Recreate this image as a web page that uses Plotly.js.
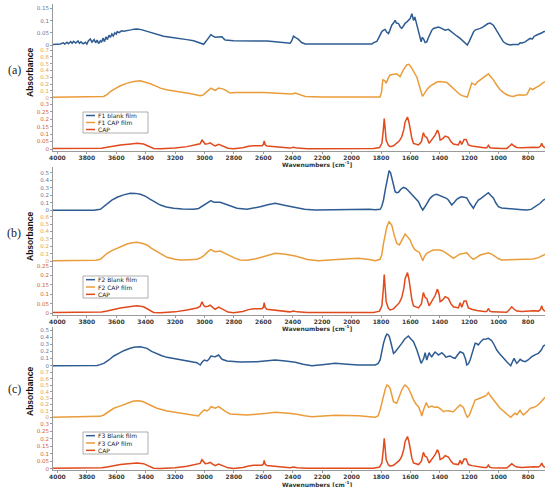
<!DOCTYPE html>
<html>
<head>
<meta charset="utf-8">
<script src="https://cdn.plot.ly/plotly-3.0.1.min.js"></script>
<style>html,body{margin:0;padding:0;background:#fff;}#chart{width:550px;height:487px;}</style>
</head>
<body>
<div id="chart"></div>
<script>
// ---------------- DATA ----------------
// Panel (a) F1 blank film
var wnA1 = [4030,4000,3980,3960,3950,3935,3925,3910,3900,3890,3875,3860,3850,3840,3825,3810,3800,3790,3776,3765,3750,3740,3730,3720,3708,3700,3690,3680,3670,3660,3650,3640,3630,3620,3610,3600,3594,3580,3565,3550,3527,3500,3480,3459,3430,3414,3380,3346,3300,3278,3220,3164,3120,3074,3040,3006,2990,2970,2956,2945,2927,2905,2881,2870,2859,2802,2700,2575,2519,2450,2417,2405,2395,2380,2361,2340,2315,2100,1950,1880,1862,1850,1840,1828,1815,1805,1795,1785,1772,1760,1749,1740,1727,1715,1704,1695,1681,1670,1659,1645,1635,1625,1612,1602,1590,1585,1579,1570,1556,1545,1538,1527,1520,1512,1500,1489,1478,1466,1455,1443,1425,1410,1395,1380,1364,1342,1325,1308,1285,1262,1240,1228,1213,1200,1183,1170,1160,1140,1126,1110,1092,1075,1058,1045,1036,1020,1002,985,968,945,922,900,877,865,854,840,820,800,786,770,760,741,720,705,696,685];
var abA1 = [0.002,0.003,0.004,0.009,0.004,0.011,0.005,0.014,0.007,0.015,0.008,0.017,0.007,0.013,0.005,0.011,0.004,0.017,0.025,0.012,0.022,0.009,0.020,0.006,0.017,0.011,0.028,0.014,0.033,0.022,0.040,0.031,0.045,0.037,0.050,0.044,0.054,0.051,0.058,0.056,0.060,0.062,0.065,0.066,0.063,0.060,0.054,0.047,0.040,0.036,0.031,0.027,0.022,0.017,0.010,0.003,0.015,0.030,0.043,0.037,0.032,0.033,0.034,0.026,0.020,0.017,0.017,0.016,0.013,0.009,0.007,0.020,0.036,0.030,0.023,0.010,0.004,0.004,0.004,0.005,0.004,0.010,0.013,0.015,0.030,0.045,0.054,0.060,0.064,0.052,0.047,0.060,0.081,0.090,0.101,0.090,0.088,0.075,0.068,0.080,0.090,0.094,0.100,0.108,0.128,0.110,0.101,0.115,0.081,0.060,0.041,0.013,0.030,0.027,0.010,0.013,0.030,0.047,0.060,0.068,0.072,0.074,0.070,0.065,0.061,0.064,0.055,0.047,0.037,0.027,0.014,0.007,0.000,0.015,0.041,0.055,0.061,0.064,0.068,0.072,0.081,0.087,0.090,0.086,0.081,0.065,0.047,0.030,0.013,0.004,0.000,0.002,0.004,0.002,0.009,0.008,0.013,0.020,0.027,0.025,0.035,0.041,0.045,0.050,0.054,0.055];
// Panel (a) F1 CAP film
var wnA2 = [4030,3950,3900,3850,3800,3760,3740,3720,3700,3686,3660,3640,3610,3572,3530,3482,3436,3400,3368,3330,3300,3250,3187,3100,3029,3010,2995,2975,2956,2940,2927,2904,2885,2870,2850,2825,2790,2757,2600,2519,2406,2383,2360,2315,2200,2000,1850,1806,1795,1788,1775,1765,1750,1738,1715,1693,1670,1660,1648,1635,1625,1612,1602,1590,1579,1556,1538,1518,1505,1489,1466,1443,1420,1398,1375,1353,1340,1319,1290,1262,1235,1213,1200,1183,1170,1160,1145,1126,1100,1085,1070,1055,1036,1015,990,965,945,920,900,877,854,830,809,795,786,770,752,720,696,685];
var abA2 = [0.005,0.008,0.012,0.010,0.013,0.020,0.010,0.018,0.012,0.019,0.050,0.090,0.130,0.175,0.210,0.238,0.248,0.228,0.204,0.170,0.141,0.112,0.092,0.060,0.029,0.040,0.068,0.110,0.141,0.120,0.107,0.141,0.135,0.126,0.100,0.068,0.075,0.078,0.078,0.068,0.053,0.068,0.050,0.019,0.012,0.010,0.010,0.012,0.100,0.262,0.250,0.214,0.290,0.335,0.345,0.350,0.311,0.360,0.408,0.450,0.481,0.490,0.471,0.430,0.384,0.301,0.165,0.019,0.060,0.117,0.170,0.204,0.230,0.238,0.230,0.223,0.200,0.156,0.090,0.044,0.020,0.010,0.100,0.214,0.200,0.190,0.230,0.262,0.300,0.330,0.350,0.310,0.262,0.190,0.117,0.070,0.044,0.025,0.019,0.035,0.044,0.035,0.044,0.100,0.141,0.120,0.141,0.180,0.223,0.235];
// Panel (b) F2 Blank film
var wnB1 = [4030,3900,3800,3753,3708,3685,3662,3630,3594,3550,3504,3470,3436,3400,3368,3330,3300,3260,3210,3150,3074,3040,3029,3005,2983,2956,2940,2927,2893,2870,2847,2810,2779,2711,2670,2621,2570,2519,2450,2383,2320,2247,2100,1953,1880,1840,1806,1795,1783,1770,1760,1745,1735,1727,1715,1704,1693,1681,1665,1648,1630,1614,1595,1579,1560,1545,1530,1516,1500,1489,1470,1455,1438,1421,1400,1376,1355,1342,1330,1319,1300,1285,1265,1251,1235,1217,1195,1172,1155,1138,1120,1104,1085,1070,1055,1036,1020,1002,980,945,910,877,840,809,780,752,720,696,685];
var abB1 = [0.000,0.002,0.003,0.002,0.013,0.050,0.093,0.135,0.173,0.205,0.226,0.225,0.213,0.185,0.146,0.105,0.070,0.045,0.027,0.018,0.013,0.025,0.040,0.070,0.093,0.128,0.110,0.106,0.106,0.090,0.070,0.045,0.027,0.013,0.025,0.048,0.075,0.093,0.065,0.040,0.015,0.004,0.012,0.021,0.015,0.006,0.013,0.050,0.137,0.280,0.403,0.527,0.500,0.447,0.340,0.247,0.235,0.240,0.280,0.306,0.290,0.261,0.220,0.181,0.150,0.115,0.050,0.004,0.050,0.093,0.150,0.181,0.205,0.213,0.195,0.181,0.160,0.137,0.100,0.070,0.110,0.146,0.170,0.181,0.175,0.164,0.090,0.027,0.090,0.137,0.160,0.181,0.210,0.234,0.200,0.164,0.100,0.048,0.030,0.027,0.018,0.013,0.008,0.004,0.012,0.048,0.090,0.137,0.150];
// Panel (b) F2 CAP film
var wnB2 = [4030,3900,3800,3760,3740,3708,3685,3662,3630,3594,3560,3527,3490,3459,3425,3391,3360,3323,3290,3255,3200,3164,3100,3051,3030,3006,2980,2956,2940,2927,2893,2860,2825,2790,2757,2711,2650,2575,2519,2450,2383,2300,2225,2100,1953,1880,1840,1806,1795,1783,1770,1760,1745,1735,1727,1710,1693,1675,1660,1645,1636,1620,1602,1585,1568,1538,1525,1516,1505,1489,1465,1443,1420,1398,1375,1353,1330,1308,1285,1262,1240,1217,1195,1172,1150,1126,1100,1070,1045,1024,1000,979,920,877,830,800,764,730,696,685];
var abB2 = [0.005,0.008,0.010,0.015,0.010,0.023,0.060,0.104,0.140,0.172,0.205,0.230,0.248,0.253,0.240,0.217,0.170,0.126,0.085,0.050,0.025,0.014,0.018,0.023,0.040,0.068,0.120,0.158,0.135,0.126,0.135,0.100,0.068,0.035,0.014,0.010,0.030,0.068,0.104,0.090,0.068,0.020,0.004,0.020,0.036,0.020,0.004,0.023,0.080,0.239,0.380,0.464,0.532,0.510,0.487,0.350,0.239,0.217,0.280,0.340,0.365,0.330,0.284,0.200,0.149,0.112,0.050,0.004,0.060,0.104,0.130,0.149,0.150,0.149,0.130,0.104,0.070,0.036,0.070,0.095,0.100,0.112,0.060,0.023,0.050,0.081,0.095,0.112,0.090,0.059,0.030,0.014,0.016,0.014,0.018,0.020,0.027,0.045,0.081,0.090];
// Panel (c) F3 Blank film
var wnC1 = [4030,3900,3800,3730,3710,3685,3650,3617,3580,3549,3510,3481,3436,3410,3391,3360,3323,3290,3255,3200,3142,3100,3051,3029,3014,3000,2983,2970,2956,2940,2927,2904,2895,2881,2847,2800,2757,2644,2580,2519,2450,2383,2330,2270,2200,2111,2030,1953,1840,1820,1806,1795,1783,1770,1760,1750,1743,1730,1715,1705,1693,1675,1659,1640,1625,1614,1600,1579,1556,1540,1527,1510,1500,1489,1473,1465,1455,1440,1432,1420,1410,1395,1387,1370,1358,1345,1330,1310,1296,1280,1262,1240,1225,1217,1205,1194,1180,1160,1150,1138,1120,1104,1085,1070,1060,1047,1030,1013,995,979,960,945,930,918,905,895,885,877,865,854,840,820,800,775,750,730,710,696,685];
var abC1 = [0.000,0.001,0.002,0.003,0.015,0.033,0.080,0.136,0.175,0.210,0.240,0.257,0.266,0.255,0.243,0.200,0.164,0.140,0.117,0.098,0.080,0.060,0.042,0.010,0.056,0.080,0.066,0.090,0.136,0.130,0.126,0.150,0.130,0.090,0.066,0.055,0.052,0.056,0.070,0.080,0.065,0.047,0.020,0.000,0.015,0.033,0.020,0.010,0.010,0.030,0.080,0.200,0.313,0.400,0.444,0.430,0.406,0.300,0.173,0.190,0.220,0.270,0.313,0.370,0.405,0.416,0.380,0.336,0.220,0.120,0.033,0.100,0.182,0.080,0.182,0.150,0.126,0.170,0.192,0.170,0.150,0.170,0.182,0.150,0.117,0.130,0.136,0.110,0.103,0.150,0.196,0.173,0.090,0.010,0.030,0.080,0.180,0.313,0.310,0.290,0.340,0.370,0.375,0.383,0.370,0.350,0.290,0.220,0.170,0.126,0.090,0.056,0.030,0.000,0.060,0.103,0.060,0.033,0.060,0.090,0.070,0.056,0.080,0.126,0.155,0.173,0.220,0.276,0.290];
// Panel (c) F3 CAP film
var wnC2 = [4030,3900,3800,3730,3710,3685,3650,3617,3580,3549,3510,3481,3447,3420,3391,3360,3323,3290,3255,3200,3142,3090,3041,3017,3001,2983,2970,2956,2940,2927,2904,2890,2870,2850,2825,2711,2575,2519,2450,2383,2320,2270,2111,1953,1840,1820,1806,1795,1783,1770,1760,1750,1738,1725,1715,1693,1675,1659,1645,1636,1625,1614,1595,1579,1560,1545,1530,1523,1510,1493,1477,1465,1455,1440,1432,1420,1410,1390,1376,1360,1342,1320,1308,1285,1262,1250,1240,1225,1213,1200,1194,1180,1160,1145,1126,1110,1092,1080,1070,1055,1036,1010,990,965,945,930,918,905,889,875,865,854,845,832,810,786,760,741,720,696,685];
var abC2 = [0.000,0.003,0.004,0.005,0.015,0.036,0.090,0.140,0.170,0.202,0.230,0.254,0.259,0.245,0.218,0.180,0.140,0.115,0.098,0.080,0.062,0.040,0.020,0.087,0.114,0.098,0.120,0.165,0.150,0.140,0.165,0.140,0.114,0.080,0.051,0.036,0.062,0.078,0.065,0.051,0.025,0.010,0.030,0.025,0.002,0.020,0.114,0.220,0.347,0.450,0.502,0.490,0.451,0.340,0.243,0.218,0.330,0.425,0.480,0.502,0.480,0.451,0.360,0.269,0.200,0.165,0.080,0.020,0.120,0.227,0.155,0.170,0.176,0.160,0.155,0.160,0.155,0.120,0.087,0.100,0.103,0.090,0.087,0.140,0.191,0.175,0.155,0.060,0.000,0.030,0.062,0.150,0.269,0.280,0.295,0.310,0.331,0.350,0.383,0.330,0.280,0.200,0.140,0.090,0.062,0.030,0.000,0.030,0.062,0.040,0.080,0.114,0.070,0.036,0.080,0.140,0.155,0.176,0.220,0.295,0.310];
// CAP (same drug spectrum in each panel)
var wnCAP = [4030,3900,3800,3700,3662,3572,3500,3459,3414,3380,3346,3300,3200,3119,3051,3030,3017,3005,2995,2975,2961,2945,2927,2904,2885,2870,2840,2802,2740,2700,2666,2609,2600,2594,2588,2576,2519,2460,2420,2395,2370,2300,2000,1850,1810,1794,1785,1778,1772,1765,1750,1738,1715,1693,1675,1659,1645,1636,1620,1610,1602,1590,1579,1560,1545,1525,1512,1500,1489,1473,1455,1440,1432,1416,1405,1398,1380,1364,1342,1325,1308,1274,1262,1251,1235,1221,1206,1183,1149,1100,1081,1070,1060,1047,980,945,925,911,895,877,840,809,790,764,730,715,707,700,690,685];
var abCAP = [0.003,0.003,0.004,0.005,0.011,0.027,0.034,0.038,0.033,0.018,0.003,0.001,0.006,0.016,0.027,0.035,0.060,0.040,0.033,0.036,0.042,0.030,0.020,0.031,0.022,0.016,0.005,0.001,0.008,0.018,0.022,0.022,0.030,0.055,0.030,0.020,0.016,0.008,0.006,0.011,0.006,0.002,0.002,0.003,0.010,0.038,0.120,0.204,0.140,0.060,0.025,0.016,0.022,0.038,0.055,0.082,0.130,0.182,0.215,0.180,0.127,0.070,0.038,0.030,0.027,0.050,0.109,0.082,0.078,0.038,0.060,0.080,0.093,0.127,0.100,0.060,0.070,0.087,0.078,0.050,0.033,0.027,0.055,0.030,0.064,0.064,0.027,0.020,0.013,0.008,0.008,0.024,0.010,0.006,0.004,0.004,0.020,0.033,0.020,0.010,0.008,0.010,0.010,0.012,0.010,0.020,0.038,0.020,0.011,0.010];

// Tick labels
var xTicks = [4000,3800,3600,3400,3200,3000,2800,2600,2400,2200,2000,1800,1600,1400,1200,1000,800];
var ticksA1 = [0,0.05,0.1,0.15];
var ticksA2 = [0,0.1,0.2,0.3,0.4,0.5,0.6,0.7];
var ticksA3 = [0,0.05,0.1,0.15,0.2,0.25,0.3];
var ticksB1 = [0,0.1,0.2,0.3,0.4,0.5];
var ticksB2 = [0,0.1,0.2,0.3,0.4,0.5,0.6];
var ticksB3 = [0,0.05,0.1,0.15,0.2,0.25];
var ticksC1 = [0,0.1,0.2,0.3,0.4,0.5];
var ticksC2 = [0,0.1,0.2,0.3,0.4,0.5,0.6,0.7];
var ticksC3 = [0,0.05,0.1,0.15,0.2,0.25,0.3];

var panelLabels = ['(a)','(b)','(c)'];
var seriesNames = [
  ['F1 blank film','F1 CAP film','CAP'],
  ['F2 Blank film','F2 CAP film','CAP'],
  ['F3 Blank film','F3 CAP film','CAP']
];
var yTitle = 'Absorbance';
var xTitle = 'Wavenumbers [cm<sup>-1</sup>]';

// ---------------- STYLE / LAYOUT ----------------
var W = 550, H = 487, ML = 53, MR = 5;
var PW = W - ML - MR;
function py(p){ return 1 - p / H; }
function px(p){ return (p - ML) / PW; }

var BLUE = '#2e5c92', ORANGE = '#eb9c3a', RED = '#e04a1c';
var BLUE_T = '#5a7aa6', ORANGE_T = '#e2a24e', RED_T = '#cf5e3c';
var colors = [BLUE, ORANGE, RED];
var tcolors = [BLUE_T, ORANGE_T, RED_T];

var data = [
  [[wnA1,abA1],[wnA2,abA2],[wnCAP,abCAP]],
  [[wnB1,abB1],[wnB2,abB2],[wnCAP,abCAP]],
  [[wnC1,abC1],[wnC2,abC2],[wnCAP,abCAP]]
];
var tickSets = [[ticksA1,ticksA2,ticksA3],[ticksB1,ticksB2,ticksB3],[ticksC1,ticksC2,ticksC3]];

// sub-axis geometry: [top px, bottom px, zero px, px per unit]
var geom = [
  [[4,47,45,244],[47,100,97.7,68.1],[100,151,149,149]],
  [[167,212,210.3,75.2],[212,263,261,73.9],[263,314.5,313,188]],
  [[327,368,365.7,71.4],[368,419,417.3,64.3],[419,470,468.6,149]]
];
var legendBox = [[112,133],[276,298],[432,454]];
var panelLabelY = [70,233,389];
var absY = [73,237,392];
var xTitleY = [164,328,483.5];

var traces = [];
var layout = {
  width: W, height: H,
  margin: {l: ML, r: MR, t: 0, b: 0, pad: 0},
  paper_bgcolor: '#fff', plot_bgcolor: '#fff',
  showlegend: false,
  font: {family: 'DejaVu Sans', size: 6, color: '#333'},
  annotations: [], shapes: []
};

for (var p = 0; p < 3; p++) {
  var xname = p === 0 ? 'x' : 'x' + (p + 1);
  var xkey = p === 0 ? 'xaxis' : 'xaxis' + (p + 1);
  for (var s = 0; s < 3; s++) {
    var idx = p * 3 + s + 1;
    var yname = idx === 1 ? 'y' : 'y' + idx;
    var ykey = idx === 1 ? 'yaxis' : 'yaxis' + idx;
    var g = geom[p][s];
    traces.push({
      type: 'scatter', mode: 'lines',
      x: data[p][s][0], y: data[p][s][1],
      name: seriesNames[p][s],
      xaxis: xname, yaxis: yname,
      line: {color: colors[s], width: 1.5},
      hoverinfo: 'skip'
    });
    layout[ykey] = {
      domain: [py(g[1]), py(g[0])],
      range: [-(g[1] - g[2]) / g[3], (g[2] - g[0]) / g[3]],
      anchor: xname,
      tickvals: tickSets[p][s],
      tickfont: {family: 'DejaVu Sans', size: 5.5, color: tcolors[s]},
      showline: true, linecolor: '#9a9a9a', linewidth: 1,
      ticks: 'outside', ticklen: 2, tickcolor: '#9a9a9a',
      showgrid: false, zeroline: false, fixedrange: true
    };
  }
  var redY = 'y' + (p * 3 + 3);
  layout[xkey] = {
    domain: [0, 1],
    anchor: redY,
    range: [4030, 685],
    tickvals: xTicks,
    tickfont: {family: 'DejaVu Sans', size: 6, color: '#3a3a3a', weight: 'bold'},
    ticklabelstandoff: -1,
    showline: true, linecolor: '#9a9a9a', linewidth: 1,
    ticks: 'outside', ticklen: 2, tickcolor: '#9a9a9a',
    showgrid: false, zeroline: false, fixedrange: true
  };

  // panel label
  layout.annotations.push({
    xref: 'paper', yref: 'paper', x: px(14), y: py(panelLabelY[p]),
    text: panelLabels[p], showarrow: false, xanchor: 'center', yanchor: 'middle',
    font: {family: 'Liberation Serif', size: 12, color: '#222'}
  });
  // y title
  layout.annotations.push({
    xref: 'paper', yref: 'paper', x: px(30), y: py(absY[p]),
    text: yTitle, showarrow: false, textangle: -90, xanchor: 'center', yanchor: 'middle',
    font: {family: 'Liberation Sans', size: 8.5, color: '#111', weight: 'bold'}
  });
  // x title
  layout.annotations.push({
    xref: 'paper', yref: 'paper', x: px(317), y: py(xTitleY[p]),
    text: xTitle, showarrow: false, xanchor: 'center', yanchor: 'middle',
    font: {family: 'DejaVu Sans', size: 6, color: '#333', weight: 'bold'}
  });
  // custom legend
  var lb = legendBox[p];
  layout.shapes.push({
    type: 'rect', xref: 'paper', yref: 'paper',
    x0: px(83), x1: px(148), y0: py(lb[1]), y1: py(lb[0]),
    line: {color: '#9a9a9a', width: 0.8}, fillcolor: '#fff', layer: 'above'
  });
  var rowH = (lb[1] - lb[0]) / 3;
  for (var s2 = 0; s2 < 3; s2++) {
    var ry = lb[0] + rowH * (s2 + 0.5);
    layout.shapes.push({
      type: 'line', xref: 'paper', yref: 'paper',
      x0: px(86), x1: px(95), y0: py(ry), y1: py(ry),
      line: {color: colors[s2], width: 1.5}, layer: 'above'
    });
    layout.annotations.push({
      xref: 'paper', yref: 'paper', x: px(97), y: py(ry),
      text: seriesNames[p][s2], showarrow: false, xanchor: 'left', yanchor: 'middle',
      borderpad: 0,
      font: {family: 'DejaVu Sans', size: 6, color: '#222'}
    });
  }
}

Plotly.newPlot('chart', traces, layout, {staticPlot: true, displayModeBar: false});
</script>
</body>
</html>
